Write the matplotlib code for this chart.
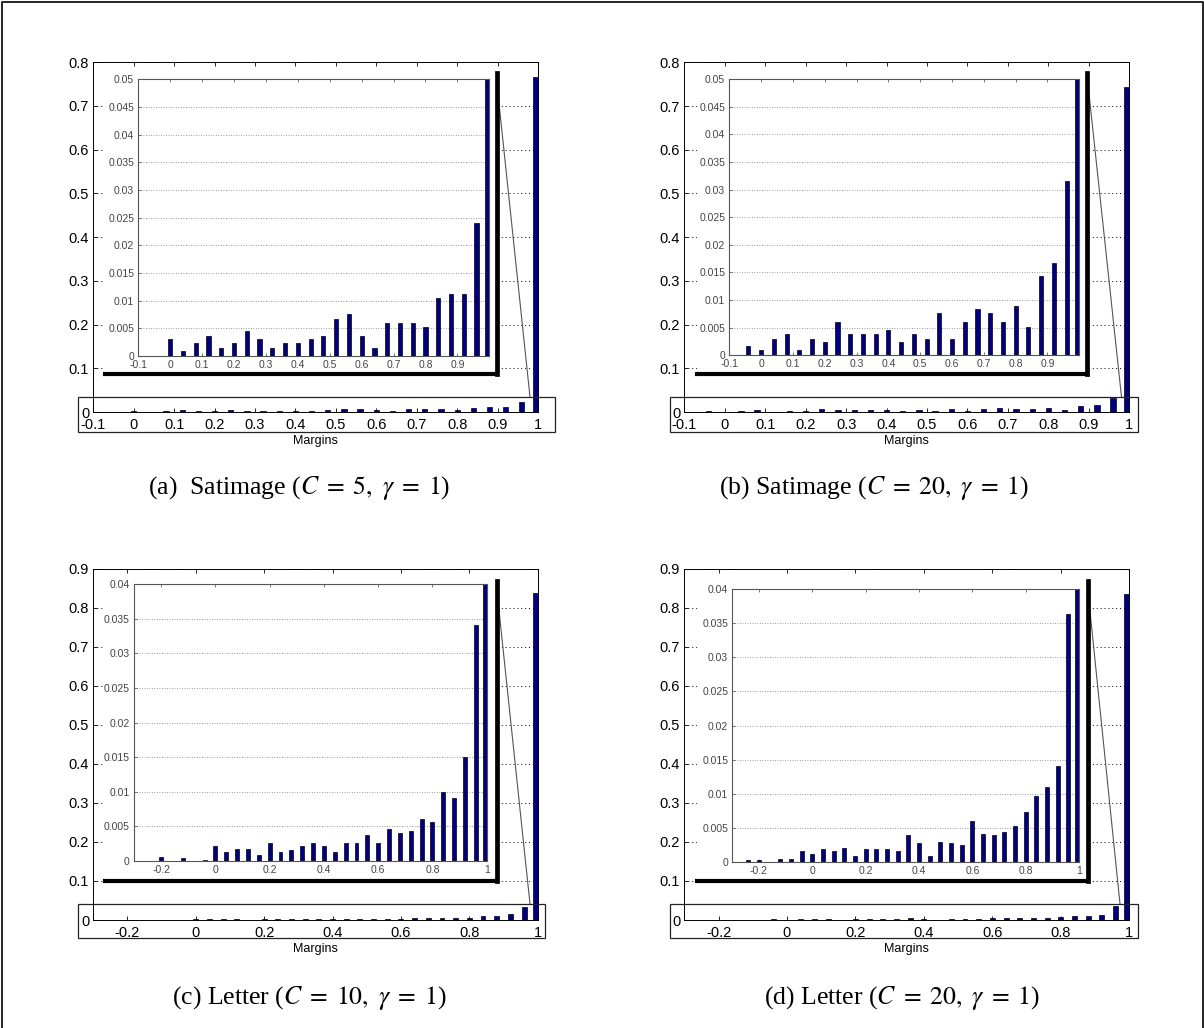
import numpy as np
import matplotlib
matplotlib.use('Agg')
import matplotlib.pyplot as plt
from matplotlib.lines import Line2D
from matplotlib.patches import Rectangle

plt.rcParams['font.family'] = 'Liberation Sans'
plt.rcParams['mathtext.fontset'] = 'stix'

W, H = 1204, 1028

# histogram bin centres (margin values) and bar heights
bins_a = [0.00, 0.04, 0.08, 0.12, 0.16, 0.20, 0.24, 0.28, 0.32, 0.36, 0.40, 0.44, 0.48,
          0.52, 0.56, 0.60, 0.64, 0.68, 0.72, 0.76, 0.80, 0.84, 0.88, 0.92, 0.96, 0.993]
vals_a = [0.0030, 0.0009, 0.0023, 0.0037, 0.0015, 0.0023, 0.0045, 0.0030, 0.0015, 0.0023,
          0.0023, 0.0030, 0.0037, 0.0067, 0.0075, 0.0037, 0.0015, 0.0060, 0.0060, 0.0060,
          0.0052, 0.0104, 0.0112, 0.0112, 0.0240, 0.766]

bins_b = [-0.04, 0.00, 0.04, 0.08, 0.12, 0.16, 0.20, 0.24, 0.28, 0.32, 0.36, 0.40, 0.44, 0.48,
          0.52, 0.56, 0.60, 0.64, 0.68, 0.72, 0.76, 0.80, 0.84, 0.88, 0.92, 0.96, 0.993]
vals_b = [0.0017, 0.0009, 0.0030, 0.0038, 0.0009, 0.0030, 0.0024, 0.0061, 0.0038, 0.0038,
          0.0038, 0.0045, 0.0024, 0.0038, 0.0030, 0.0076, 0.0030, 0.0061, 0.0083, 0.0076,
          0.0061, 0.0090, 0.0052, 0.0144, 0.0167, 0.0316, 0.743]

bins_c = [-0.20, -0.16, -0.12, -0.08, -0.04, 0.00, 0.04, 0.08, 0.12, 0.16, 0.20, 0.24, 0.28,
          0.32, 0.36, 0.40, 0.44, 0.48, 0.52, 0.56, 0.60, 0.64, 0.68, 0.72, 0.76, 0.80, 0.84,
          0.88, 0.92, 0.96, 0.993]
vals_c = [0.00063, 0.0, 0.00043, 0.0, 0.0002, 0.0021, 0.00135, 0.0018, 0.0018, 0.00087,
          0.00266, 0.00135, 0.0016, 0.00217, 0.00266, 0.0021, 0.00135, 0.00266, 0.00266, 0.0038,
          0.00266, 0.0046, 0.0041, 0.0043, 0.0060, 0.0056, 0.0100, 0.0091, 0.0151, 0.0341, 0.838]

bins_d = [-0.24, -0.20, -0.16, -0.12, -0.08, -0.04, 0.00, 0.04, 0.08, 0.12, 0.16, 0.20, 0.24,
          0.28, 0.32, 0.36, 0.40, 0.44, 0.48, 0.52, 0.56, 0.60, 0.64, 0.68, 0.72, 0.76, 0.80,
          0.84, 0.88, 0.92, 0.96, 0.993]
vals_d = [0.0002, 0.0002, 0.0, 0.0004, 0.00045, 0.00156, 0.0011, 0.0018, 0.00156, 0.0020,
          0.00083, 0.0018, 0.0018, 0.0018, 0.00156, 0.00385, 0.0027, 0.00088, 0.0029, 0.0027,
          0.0024, 0.0060, 0.0040, 0.00385, 0.0043, 0.0053, 0.0073, 0.00965, 0.0110, 0.01405,
          0.0363, 0.834]

# tick positions / labels
xt_ab = [-0.1, 0, 0.1, 0.2, 0.3, 0.4, 0.5, 0.6, 0.7, 0.8, 0.9, 1.0]
xl_ab = ['-0.1', '0', '0.1', '0.2', '0.3', '0.4', '0.5', '0.6', '0.7', '0.8', '0.9', '1']
xt_cd = [-0.2, 0, 0.2, 0.4, 0.6, 0.8, 1.0]
xl_cd = ['-0.2', '0', '0.2', '0.4', '0.6', '0.8', '1']
yt_ab = [0, 0.1, 0.2, 0.3, 0.4, 0.5, 0.6, 0.7, 0.8]
yl_ab = ['0', '0.1', '0.2', '0.3', '0.4', '0.5', '0.6', '0.7', '0.8']
yt_cd = [0, 0.1, 0.2, 0.3, 0.4, 0.5, 0.6, 0.7, 0.8, 0.9]
yl_cd = ['0', '0.1', '0.2', '0.3', '0.4', '0.5', '0.6', '0.7', '0.8', '0.9']
iyt_ab = [0, 0.005, 0.01, 0.015, 0.02, 0.025, 0.03, 0.035, 0.04, 0.045, 0.05]
iyl_ab = ['0', '0.005', '0.01', '0.015', '0.02', '0.025', '0.03', '0.035', '0.04', '0.045', '0.05']
iyt_cd = [0, 0.005, 0.01, 0.015, 0.02, 0.025, 0.03, 0.035, 0.04]
iyl_cd = ['0', '0.005', '0.01', '0.015', '0.02', '0.025', '0.03', '0.035', '0.04']

captions = [r'(a)  Satimage ($C\;=\;5,\ \gamma\;=\;1$)',
            r'(b) Satimage ($C\;=\;20,\ \gamma\;=\;1$)',
            r'(c) Letter ($C\;=\;10,\ \gamma\;=\;1$)',
            r'(d) Letter ($C\;=\;20,\ \gamma\;=\;1$)']

BAR = '#000080'


def frac(l, t, r, b):
    return [l / W, 1 - b / H, (r - l) / W, (b - t) / H]


def fpt(x, y):
    return x / W, 1 - y / H


fig = plt.figure(figsize=(W / 100, H / 100), dpi=100)


def panel(main, inset, shadow, box, link, bins, vals, xlim, xt, xl, yt, yl,
          ixt, ixl, iyt, iyl, width, cap, cap_xy):
    # main histogram
    ax = fig.add_axes(frac(*main))
    ax.set_zorder(0)
    ax.bar(bins, vals, width=width, color=BAR, edgecolor='black', linewidth=0.5)
    ax.set_xlim(*xlim)
    ax.set_ylim(yt[0], yt[-1])
    ax.set_xticks(xt)
    ax.set_xticklabels(xl)
    ax.set_yticks(yt)
    ax.set_yticklabels(yl)
    ax.tick_params(direction='in', length=3, width=0.6, labelsize=10.5, pad=3,
                   top=True, right=True)
    ax.tick_params(axis='x', pad=4.5)
    ax.yaxis.grid(True, color='black', linestyle=(0, (1, 3)), linewidth=0.7)
    ax.set_axisbelow(True)
    for s in ax.spines.values():
        s.set_linewidth(0.7)
    ax.set_xlabel('Margins', fontsize=9, labelpad=2)

    # white backing with heavy shadow on right / bottom
    sh = fig.add_axes(frac(*shadow))
    sh.set_zorder(1)
    sh.set_facecolor('white')
    sh.set_xticks([])
    sh.set_yticks([])
    sh.spines['top'].set_visible(False)
    sh.spines['left'].set_visible(False)
    sh.spines['right'].set_linewidth(3.4)
    sh.spines['bottom'].set_linewidth(3.0)

    # zoomed inset
    ins = fig.add_axes(frac(*inset))
    ins.set_zorder(2)
    ins.bar(bins, vals, width=width, color=BAR, edgecolor='black', linewidth=0.5)
    ins.set_xlim(*xlim)
    ins.set_ylim(iyt[0], iyt[-1])
    ins.set_xticks(ixt)
    ins.set_xticklabels(ixl)
    ins.set_yticks(iyt)
    ins.set_yticklabels(iyl)
    ins.tick_params(direction='in', length=2, width=0.5, labelsize=7.5, pad=3,
                    top=True, right=True, colors='#444444')
    ins.yaxis.grid(True, color='#777777', linestyle=(0, (1, 2)), linewidth=0.6)
    ins.set_axisbelow(True)
    for s in ins.spines.values():
        s.set_linewidth(0.8)
        s.set_color('#555555')

    # connector line and source rectangle
    x0, y0 = fpt(*link[0])
    x1, y1 = fpt(*link[1])
    fig.add_artist(Line2D([x0, x1], [y0, y1], transform=fig.transFigure,
                          color='#555555', linewidth=0.8, zorder=0.5))
    bl = frac(*box)
    fig.add_artist(Rectangle((bl[0], bl[1]), bl[2], bl[3], transform=fig.transFigure,
                             fill=False, edgecolor='#222222', linewidth=0.9, zorder=3))

    fig.text(*fpt(*cap_xy), cap, ha='center', va='center', fontsize=18.5,
             family='Liberation Serif')


panel((93.3, 62, 538, 412.1), (138.3, 79.3, 489.3, 356), (105, 73, 496.5, 373.5),
      (78, 396.7, 555, 431.7), ((496, 75), (530, 397)),
      bins_a, vals_a, (-0.1, 1.0), xt_ab, xl_ab, yt_ab, yl_ab,
      xt_ab[:-1], xl_ab[:-1], iyt_ab, iyl_ab, 0.013, captions[0], (299, 488))

panel((684.3, 62.3, 1129.3, 412.1), (729.3, 79, 1079.3, 355.3), (697, 73.3, 1086.7, 373.5),
      (670, 396.7, 1138, 431.7), ((1087, 75), (1121.5, 397)),
      bins_b, vals_b, (-0.1, 1.0), xt_ab, xl_ab, yt_ab, yl_ab,
      xt_ab[:-1], xl_ab[:-1], iyt_ab, iyl_ab, 0.013, captions[1], (874, 488))

panel((93.3, 568.6, 537.7, 920), (134, 584.3, 486.7, 861), (105, 580.7, 496.7, 880.5),
      (78.3, 904, 545, 938.3), ((496, 582), (530, 904)),
      bins_c, vals_c, (-0.3, 1.0), xt_cd, xl_cd, yt_cd, yl_cd,
      xt_cd, xl_cd, iyt_cd, iyl_cd, 0.0145, captions[2], (309, 998))

panel((684.3, 568.6, 1129.3, 920), (732.3, 589.3, 1079, 861.7), (697, 580.7, 1088.3, 880.5),
      (670, 904, 1138, 938.3), ((1087, 582), (1120, 904)),
      bins_d, vals_d, (-0.3, 1.0), xt_cd, xl_cd, yt_cd, yl_cd,
      xt_cd, xl_cd, iyt_cd, iyl_cd, 0.0145, captions[3], (902, 998))

# outer frame
fig.add_artist(Line2D([1.5 / W, 1.5 / W, 1202.5 / W, 1202.5 / W],
                      [0, 1 - 1.5 / H, 1 - 1.5 / H, 0], transform=fig.transFigure,
                      color='black', linewidth=1.2, zorder=5))

fig.savefig('out.png', dpi=100)
